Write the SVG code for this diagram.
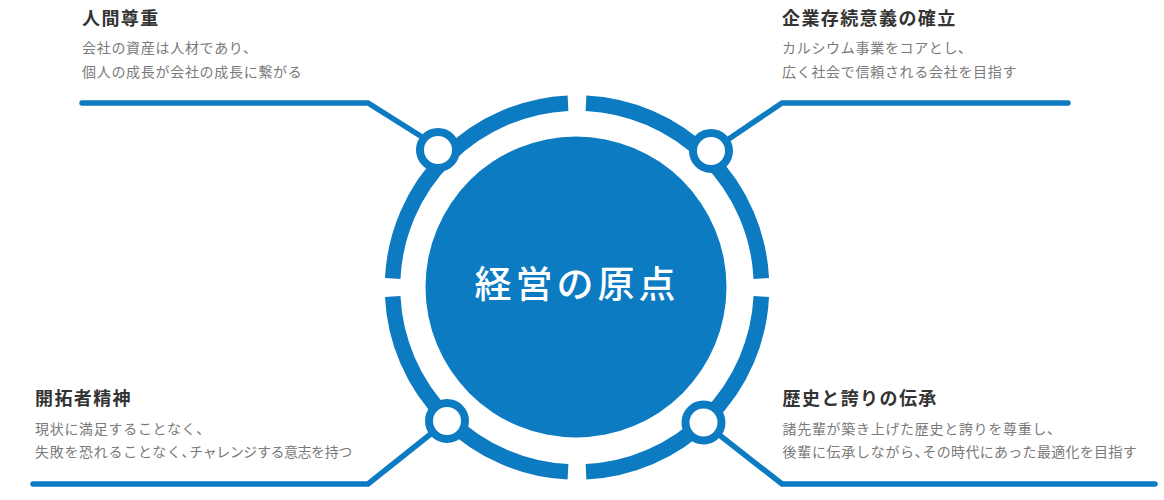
<svg xmlns="http://www.w3.org/2000/svg" width="1164" height="500" viewBox="0 0 1164 500">
<style>
.blue{fill:#0c7bc2}
.ring{fill:none;stroke:#0c7bc2;stroke-width:15.5}
.conn{fill:none;stroke:#0c7bc2;stroke-width:5.5;stroke-linecap:round;stroke-linejoin:miter}
.dot{fill:#ffffff;stroke:#0c7bc2;stroke-width:8}
.ttl{font-family:"Noto Sans CJK JP","Noto Sans",sans-serif;font-size:18px;font-weight:700;fill:#333333;letter-spacing:1.4px}
.sub{font-family:"Noto Sans CJK JP","Noto Sans",sans-serif;font-size:14px;fill:#7a7a7a;letter-spacing:0.7px}
.ctr{font-family:"Noto Sans CJK JP","Noto Sans",sans-serif;font-size:37px;font-weight:500;fill:#ffffff;letter-spacing:4px}
</style>
<rect width="1164" height="500" fill="#ffffff"/>
<g id="center">
<path class="ring" d="M586,103.22 A184.5,184.5 0 0 1 761.28,278.5"/>
<path class="ring" d="M761.28,296.5 A184.5,184.5 0 0 1 586,471.78"/>
<path class="ring" d="M568,471.78 A184.5,184.5 0 0 1 392.72,296.5"/>
<path class="ring" d="M392.72,278.5 A184.5,184.5 0 0 1 568,103.22"/>
<circle class="blue" cx="576" cy="287" r="150.5"/>
<text class="ctr" x="577" y="298" text-anchor="middle">経営の原点</text>
</g>
<g id="connectors">
<path class="conn" d="M82,103 H368 L438,147"/>
<path class="conn" d="M1068,103 H782 L711,151"/>
<path class="conn" d="M33,484 H368 L447,421"/>
<path class="conn" d="M1155,484 H782 L703.5,422.5"/>
</g>
<g id="node-ningen">
<circle class="dot" cx="438" cy="150" r="18"/>
<text class="ttl" x="82" y="25">人間尊重</text>
<text class="sub" x="82" y="53">会社の資産は人材であり、</text>
<text class="sub" x="82" y="77">個人の成長が会社の成長に繋がる</text>
</g>
<g id="node-kigyo">
<circle class="dot" cx="711" cy="151" r="18"/>
<text class="ttl" x="782" y="25">企業存続意義の確立</text>
<text class="sub" x="782" y="53">カルシウム事業をコアとし、</text>
<text class="sub" x="782" y="77">広く社会で信頼される会社を目指す</text>
</g>
<g id="node-kaitaku">
<circle class="dot" cx="447" cy="421" r="18"/>
<text class="ttl" x="35" y="405">開拓者精神</text>
<text class="sub" x="35" y="433.5">現状に満足することなく、</text>
<text class="sub" x="35" y="457">失敗を恐れることなく、<tspan dx="-7" style="letter-spacing:-0.45px">チャレンジする意志を持つ</tspan></text>
</g>
<g id="node-rekishi">
<circle class="dot" cx="703.5" cy="422.5" r="18"/>
<text class="ttl" x="782.5" y="405">歴史と誇りの伝承</text>
<text class="sub" x="782.5" y="433.5">諸先輩が築き上げた歴史と誇りを尊重し、</text>
<text class="sub" x="782.5" y="457">後輩に伝承しながら、<tspan dx="-7" style="letter-spacing:0.3px">その時代にあった最適化を目指す</tspan></text>
</g>
</svg>
